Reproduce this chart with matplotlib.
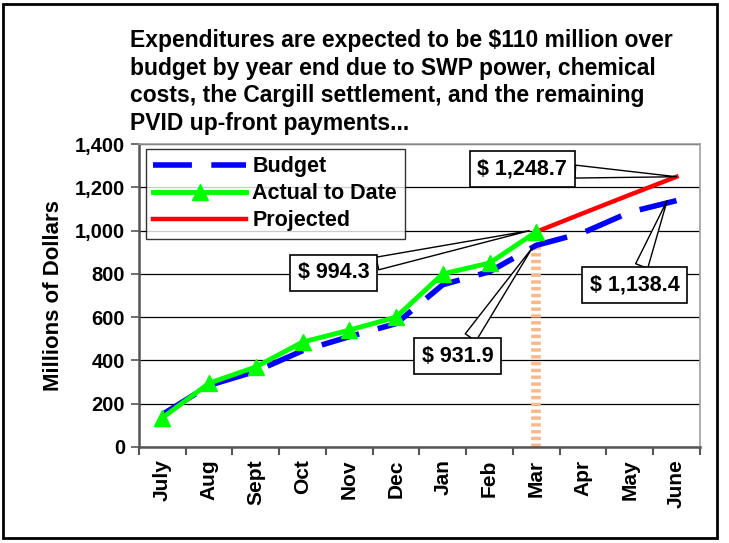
import numpy as np
import matplotlib
matplotlib.use("Agg")
import matplotlib.pyplot as plt
from matplotlib.patches import Rectangle

months = ['July', 'Aug', 'Sept', 'Oct', 'Nov', 'Dec', 'Jan', 'Feb', 'Mar', 'Apr', 'May', 'June']
budget = [150, 285, 350, 445, 510, 570, 750, 810, 931.9, 990, 1085, 1138.4]
actual = [135, 295, 370, 485, 540, 600, 800, 850, 994.3]
projected = [994.3, 1080, 1165, 1248.7]
proj_start = 8  # Mar

title = ("Expenditures are expected to be $110 million over\n"
         "budget by year end due to SWP power, chemical\n"
         "costs, the Cargill settlement, and the remaining\n"
         "PVID up-front payments...")

plt.rcParams['font.family'] = ['Liberation Sans', 'DejaVu Sans']
plt.rcParams['font.weight'] = 'bold'

fig = plt.figure(figsize=(7.29, 5.43), dpi=100)
ax = fig.add_axes([0.1907, 0.1768, 0.7693, 0.558])

x = np.arange(len(months))

# orange marker bar at the current month
ax.plot([proj_start, proj_start], [0, budget[proj_start]], color='#f9b98c', lw=7,
        linestyle=(0, (0.35, 0.35)), solid_capstyle='butt', zorder=2)

ax.plot(x, budget, color='#0000ff', lw=4, linestyle=(0, (7, 3.5)), label='Budget', zorder=3)
ax.plot(x[:len(actual)], actual, color='#00ff00', lw=3.5, marker='^', markersize=11,
        label='Actual to Date', zorder=4)
ax.plot(x[proj_start:], projected, color='#ff0000', lw=3.2, label='Projected', zorder=3)

ax.set_xlim(-0.5, 11.5)
ax.set_ylim(0, 1400)
ax.set_yticks(np.arange(0, 1401, 200))
ax.set_yticklabels([f'{v:,}' for v in range(0, 1401, 200)], fontsize=14.5, fontweight='bold')
ax.yaxis.grid(True, color='black', lw=0.9)
ax.set_axisbelow(True)

ax.set_xticks(x)
ax.set_xticklabels(months, rotation=90, fontsize=15, fontweight='bold')
ax.tick_params(axis='x', length=0, pad=9)
ax.set_xticks(np.arange(-0.5, 12, 1), minor=True)
ax.tick_params(axis='x', which='minor', length=6, width=1.5, color='#555555', direction='out')
ax.tick_params(axis='y', length=6, width=1.2, color='#555555', pad=4)

for s in ['left', 'bottom']:
    ax.spines[s].set_color('#555555')
    ax.spines[s].set_linewidth(1.8)
for s in ['top', 'right']:
    ax.spines[s].set_color('#a0a0a0')
    ax.spines[s].set_linewidth(1.2)

ax.set_ylabel('Millions of Dollars', fontsize=16, fontweight='bold', labelpad=8)

leg = ax.legend(loc='upper left', bbox_to_anchor=(0.012, 0.985), fontsize=15.5, frameon=True,
                fancybox=False, edgecolor='black', handlelength=4.3, borderpad=0.35,
                labelspacing=0.28, handletextpad=0.3, borderaxespad=0)
leg.get_frame().set_linewidth(1.0)
for t in leg.get_texts():
    t.set_fontweight('bold')

# callouts
callouts = [
    ('$ 1,248.7', (11, projected[-1]), (7.7, 1285)),
    ('$ 994.3', (7.85, actual[-1] + 5), (3.66, 804)),
    ('$ 931.9', (7.92, budget[proj_start] - 10), (6.32, 420)),
    ('$ 1,138.4', (10.8, budget[-1]), (10.1, 750)),
]
for label, tip, pos in callouts:
    ax.annotate(label, xy=tip, xytext=pos, ha='center', va='center',
                fontsize=15.5, fontweight='bold', zorder=6,
                bbox=dict(boxstyle='square,pad=0.35', fc='white', ec='black', lw=1.2),
                arrowprops=dict(arrowstyle='wedge,tail_width=0.6,shrink_factor=0.5',
                                fc='white', ec='black', lw=1.0, shrinkA=0, shrinkB=0))

fig.text(0.178, 0.946, title, ha='left', va='top', fontsize=16.5, fontweight='bold',
         linespacing=1.25)

fig.patches.append(Rectangle((0.004, 0.01), 0.98, 0.982, transform=fig.transFigure,
                             fill=False, ec='black', lw=2))

fig.savefig('out.png', dpi=100)
